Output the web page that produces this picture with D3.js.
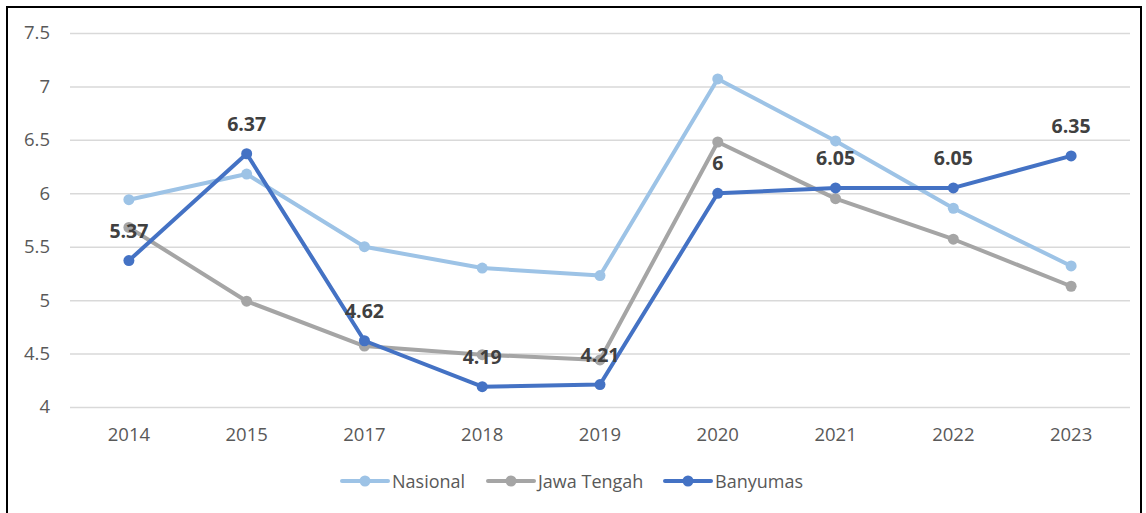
<!DOCTYPE html>
<html>
<head>
<meta charset="utf-8">
<script src="https://cdn.jsdelivr.net/npm/d3@7"></script>
<style>
  body { margin: 0; background: #fff; }
  svg { display: block; }
</style>
</head>
<body>
<div id="chart"></div>
<script>
const years = ["2014", "2015", "2017", "2018", "2019", "2020", "2021", "2022", "2023"];
const nasional = [5.94, 6.18, 5.50, 5.30, 5.23, 7.07, 6.49, 5.86, 5.32];
const jawaTengah = [5.68, 4.99, 4.57, 4.49, 4.44, 6.48, 5.95, 5.57, 5.13];
const banyumas = [5.37, 6.37, 4.62, 4.19, 4.21, 6.00, 6.05, 6.05, 6.35];
const yTicks = [4, 4.5, 5, 5.5, 6, 6.5, 7, 7.5];

const width = 1146;
const height = 513;

const series = [
  { name: "Nasional", values: nasional, color: "#9dc3e6" },
  { name: "Jawa Tengah", values: jawaTengah, color: "#a5a5a5" },
  { name: "Banyumas", values: banyumas, color: "#4472c4" },
];

const svg = d3
  .select("#chart")
  .append("svg")
  .attr("width", width)
  .attr("height", height);

// frame
svg.append("rect")
  .attr("x", 7).attr("y", 7)
  .attr("width", 1134).attr("height", 512)
  .attr("fill", "#fff")
  .attr("stroke", "#000")
  .attr("stroke-width", 2);

const xScale = d3.scaleBand()
  .domain(years)
  .range([70, 1130]);

const yScale = d3.scaleLinear()
  .domain([4, 7.5])
  .range([407, 33]);

const cx = (d) => xScale(d) + xScale.bandwidth() / 2;

// gridlines + y labels
const yAxis = d3.axisLeft(yScale)
  .tickValues(yTicks)
  .tickSize(-(1130 - 70))
  .tickPadding(20)
  .tickFormat(d3.format("~g"));

const gy = svg.append("g").attr("transform", "translate(70,0)").call(yAxis);
gy.select(".domain").remove();
gy.selectAll(".tick line").attr("stroke", "#d9d9d9").attr("stroke-width", 1.5);
gy.selectAll(".tick text")
  .attr("fill", "#595959")
  .style("font-family", "'Open Sans', sans-serif")
  .style("font-size", "18.5px");

// x labels
const xAxis = d3.axisBottom(xScale).tickSize(0).tickPadding(21);
const gx = svg.append("g").attr("transform", "translate(0,407)").call(xAxis);
gx.select(".domain").remove();
gx.selectAll(".tick text")
  .attr("fill", "#595959")
  .style("font-family", "'Open Sans', sans-serif")
  .style("font-size", "18.5px");

const line = d3.line()
  .x((d, i) => cx(years[i]))
  .y((d) => yScale(d));

series.forEach((s) => {
  svg.append("path")
    .datum(s.values)
    .attr("d", line)
    .attr("fill", "none")
    .attr("stroke", s.color)
    .attr("stroke-width", 4)
    .attr("stroke-linejoin", "round");

  svg.append("g")
    .selectAll("circle")
    .data(s.values)
    .enter()
    .append("circle")
    .attr("cx", (d, i) => cx(years[i]))
    .attr("cy", (d) => yScale(d))
    .attr("r", 5.5)
    .attr("fill", s.color);
});

// Banyumas labels
svg.append("g")
  .selectAll("text")
  .data(banyumas)
  .enter()
  .append("text")
  .attr("x", (d, i) => cx(years[i]))
  .attr("y", (d) => yScale(d) - 23)
  .attr("text-anchor", "middle")
  .attr("fill", "#404040")
  .style("font-family", "'Open Sans', sans-serif")
  .style("font-size", "19.5px")
  .style("font-weight", "bold")
  .text((d) => d3.format("~g")(d));

// legend
const legendX = [342, 488, 665];
const legend = svg.append("g");
series.forEach((s, i) => {
  const g = legend.append("g").attr("transform", `translate(${legendX[i]},481)`);
  g.append("line")
    .attr("x1", 0).attr("x2", 46)
    .attr("stroke", s.color).attr("stroke-width", 4)
    .attr("stroke-linecap", "round");
  g.append("circle").attr("cx", 23).attr("r", 5.5).attr("fill", s.color);
  g.append("text")
    .attr("x", 50).attr("y", 7)
    .attr("fill", "#595959")
    .style("font-family", "'Open Sans', sans-serif")
    .style("font-size", "18px")
    .text(s.name);
});
</script>
</body>
</html>
